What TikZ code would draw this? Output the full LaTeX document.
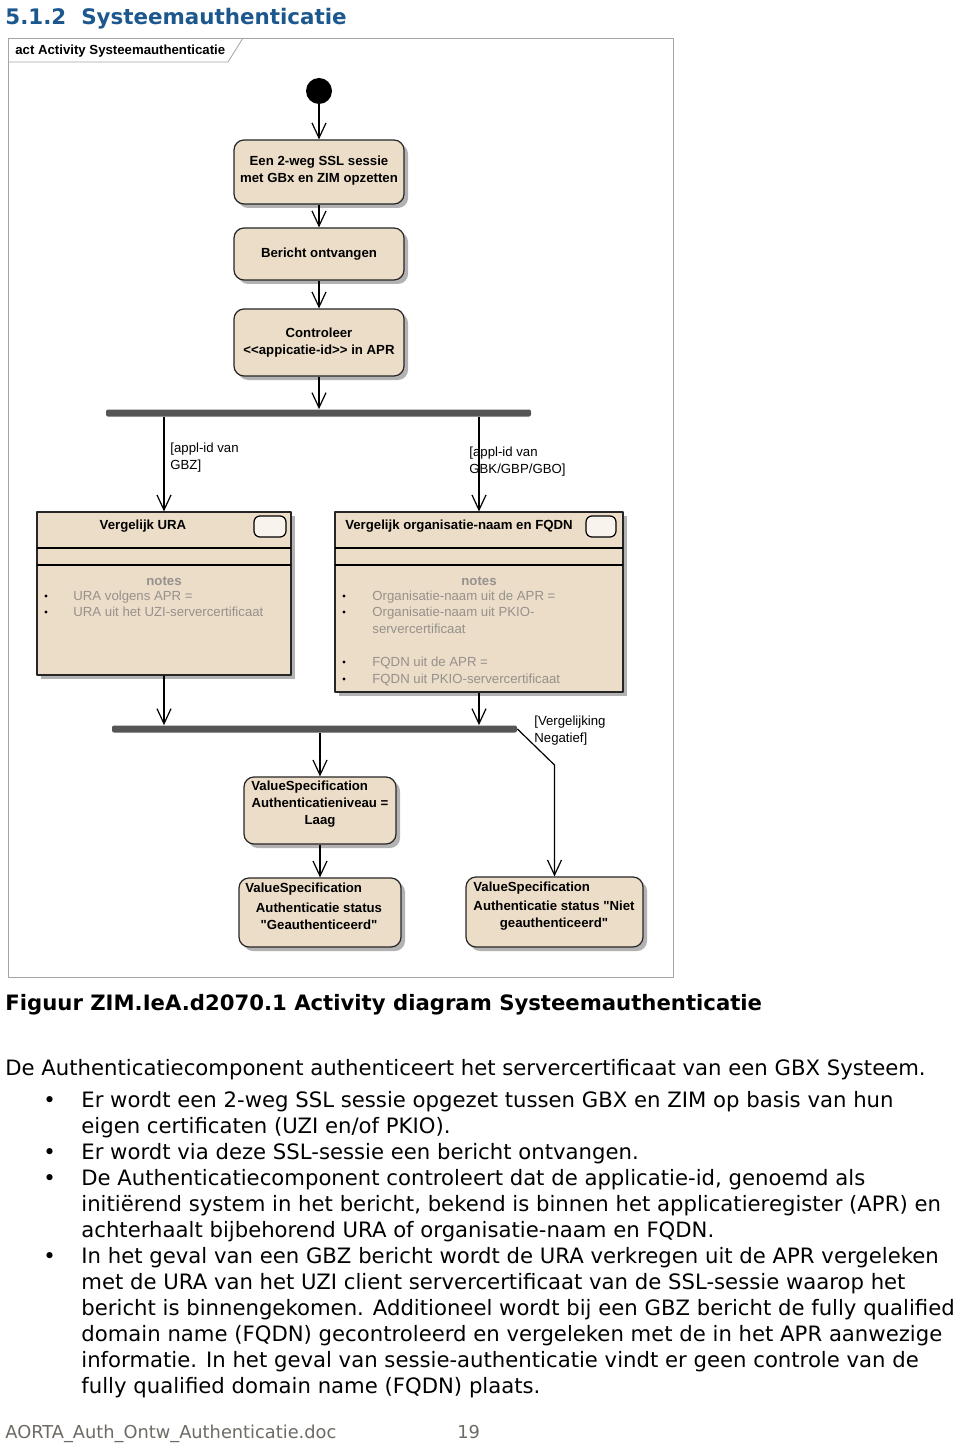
\documentclass[tikz,border=0pt]{standalone}
\usepackage{fontspec}
\setmainfont[Ligatures=TeXOff]{Liberation Sans}
\newfontfamily\bodyfont{DejaVu Sans}
\usetikzlibrary{arrows.meta,shadows,positioning}
\definecolor{kop}{RGB}{28,88,142}
\definecolor{actie}{RGB}{236,221,200}
\definecolor{balk}{RGB}{85,85,85}
\definecolor{notitie}{RGB}{150,145,140}
\definecolor{kader}{RGB}{165,165,165}
\definecolor{voet}{RGB}{110,106,100}

\begin{document}
\begin{tikzpicture}[x=0.5pt, y=-0.5pt, line join=round, >={Straight Barb[length=7.5pt,width=7pt]}]
			\tikzset{
				schaduw/.style={drop shadow={shadow xshift=2pt, shadow yshift=-2pt, fill=black!30, opacity=1}},
				actie/.style={draw=black!85, fill=actie, rounded corners=5pt, line width=0.6pt, schaduw, align=center, inner sep=0pt, font=\fontsize{6.6}{8.5}\selectfont\bfseries},
				blok/.style={draw=black!85, fill=actie, line width=0.6pt, schaduw, inner sep=0pt},
				balk/.style={fill=balk, rounded corners=1pt, minimum height=3.5pt, inner sep=0pt},
				pijl/.style={->, line width=0.6pt},
				wacht/.style={font=\fontsize{6.6}{8.5}\selectfont, align=left, anchor=north west, inner sep=0pt},
				notitie/.style={text=notitie, font=\fontsize{6.6}{8.3}\selectfont, anchor=base west, inner sep=0pt},
				vet/.style={font=\fontsize{6.6}{8.5}\selectfont\bfseries, inner sep=0pt},
				tekst/.style={font=\bodyfont\fontsize{10.6}{13}\selectfont, anchor=base west, inner sep=0pt}
			}
			\useasboundingbox[fill=white] (0,0) rectangle (960,1444);
			% kop
			\node[anchor=base west, text=kop, font=\bodyfont\bfseries\fontsize{10.7}{13}\selectfont, inner sep=0pt] (titel) at (5,25) {5.1.2\hspace{0.7em}Systeemauthenticatie};
			% kader
			\draw[kader] (8,38) rectangle (673,977);
			\draw[kader] (8,62) -- (228,62) -- (243,38);
			\node[vet, anchor=west] (act) at (15,51) {act Activity Systeemauthenticatie};
			% acties
			\node[circle, fill=black, minimum size=13pt, inner sep=0pt] (start) at (319,91) {};
			\node[actie, minimum width=85pt, minimum height=32pt] (ssl) at (319,172) {Een 2-weg SSL sessie\\met GBx en ZIM opzetten\rule[-3pt]{0pt}{3pt}};
			\node[actie, minimum width=85pt, minimum height=26pt] (ontv) at (319,254) {Bericht ontvangen};
			\node[actie, minimum width=85pt, minimum height=33.5pt] (contr) at (319,342.5) {Controleer\\<{}<appicatie-id>{}> in APR};
			\node[balk, minimum width=212.5pt] (fork) at (318.5,413) {};
			\node[blok, minimum width=127pt, minimum height=81.5pt] (ura) at (164,593.5) {};
			\node[blok, minimum width=144pt, minimum height=90pt] (org) at (479,602) {};
			\node[balk, minimum width=202.5pt] (join) at (314.5,729) {};
			\node[actie, minimum width=76pt, minimum height=33.5pt] (niveau) at (320,810.5) {};
			\node[actie, minimum width=81pt, minimum height=34.5pt] (geauth) at (320,912.5) {};
			\node[actie, minimum width=88.5pt, minimum height=35pt] (niet) at (554.5,912) {};
			% vakken van de vergelijkingen
			\draw[line width=0.6pt] (37,548) -- (291,548) (37,565) -- (291,565);
			\draw[line width=0.6pt] (335,548) -- (623,548) (335,565) -- (623,565);
			\draw[line width=0.6pt, fill=actie!35, rounded corners=3pt] (254,516) rectangle (286,537);
			\draw[line width=0.6pt, fill=actie!35, rounded corners=3pt] (586,516) rectangle (616,537);
			\node[vet] (uratitel) at (143,526) {Vergelijk URA};
			\node[vet] (orgtitel) at (459,526) {Vergelijk organisatie-naam en FQDN};
			\node[vet, text=notitie] (uranotes) at (164,581) {notes};
			\node[vet, text=notitie] (orgnotes) at (479,581) {notes};
			\foreach \y in {596,612} \fill[notitie] (46,\y) circle (1.7);
			\foreach \y in {596,612,662,679} \fill[notitie] (344,\y) circle (1.7);
			\node[notitie] (ura1) at (73,600) {URA volgens APR =};
			\node[notitie] (ura2) at (73,616.5) {URA uit het UZI-servercertificaat};
			\node[notitie] (org1) at (372,600) {Organisatie-naam uit de APR =};
			\node[notitie] (org2) at (372,616.5) {Organisatie-naam uit PKIO-};
			\node[notitie] (org3) at (372,633) {servercertificaat};
			\node[notitie] (org4) at (372,666.5) {FQDN uit de APR =};
			\node[notitie] (org5) at (372,683) {FQDN uit PKIO-servercertificaat};
			% waardes
			\node[vet, anchor=west] (vs1) at (251,787) {ValueSpecification};
			\node[vet, align=center] (vs1b) at (320,813) {Authenticatieniveau =\\Laag};
			\node[vet, anchor=west] (vs2) at (245,889) {ValueSpecification};
			\node[vet, align=center] (vs2b) at (319,916.5) {Authenticatie status\\"Geauthenticeerd"};
			\node[vet, anchor=west] (vs3) at (473,888) {ValueSpecification};
			\node[vet, align=center] (vs3b) at (554,915.5) {Authenticatie status "Niet\\geauthenticeerd"};
			% stroom
			\draw[pijl] (start) -- (ssl);
			\draw[pijl] (ssl) -- (ontv);
			\draw[pijl] (ontv) -- (contr);
			\draw[pijl] (contr) -- (contr |- fork.north);
			\draw[pijl] (ura.north |- fork.south) -- (ura.north);
			\draw[pijl] (org.north |- fork.south) -- (org.north);
			\node[wacht] (gbz) at (170,443) {[appl-id van\\GBZ]};
			\node[wacht] (gbk) at (469,447) {[appl-id van\\GBK/GBP/GBO]};
			\draw[pijl] (ura.south) -- (ura.south |- join.north);
			\draw[pijl] (org.south) -- (org.south |- join.north);
			\draw[pijl] (niveau.north |- join.south) -- (niveau);
			\draw[pijl] (niveau) -- (geauth);
			\coordinate (knik) at (554.5,765);
			\draw[pijl] (join.east) -- (knik) -- (niet);
			\node[wacht] (negatief) at (534,716) {[Vergelijking\\Negatief]};
			% tekst
			\node[tekst, font=\bodyfont\bfseries\fontsize{10.6}{13}\selectfont] (figuur) at (5,1010) {Figuur ZIM.IeA.d2070.1 Activity diagram Systeemauthenticatie};
			\node[tekst] (intro) at (5,1075) {De Authenticatiecomponent authenticeert het servercertificaat van een GBX Systeem.};
			\foreach \y in {1107,1159,1185,1263} \node[tekst] at (43,\y) {•};
			\node[tekst] (r1) at (81,1107) {Er wordt een 2-weg SSL sessie opgezet tussen GBX en ZIM op basis van hun};
			\node[tekst] (r2) at (81,1133) {eigen certificaten (UZI en/of PKIO).};
			\node[tekst] (r3) at (81,1159) {Er wordt via deze SSL-sessie een bericht ontvangen.};
			\node[tekst] (r4) at (81,1185) {De Authenticatiecomponent controleert dat de applicatie-id, genoemd als};
			\node[tekst] (r5) at (81,1211) {initiërend system in het bericht, bekend is binnen het applicatieregister (APR) en};
			\node[tekst] (r6) at (81,1237) {achterhaalt bijbehorend URA of organisatie-naam en FQDN.};
			\node[tekst] (r7) at (81,1263) {In het geval van een GBZ bericht wordt de URA verkregen uit de APR vergeleken};
			\node[tekst] (r8) at (81,1289) {met de URA van het UZI client servercertificaat van de SSL-sessie waarop het};
			\node[tekst] (r9) at (81,1315) {bericht is binnengekomen. Additioneel wordt bij een GBZ bericht de fully qualified};
			\node[tekst] (r10) at (81,1341) {domain name (FQDN) gecontroleerd en vergeleken met de in het APR aanwezige};
			\node[tekst] (r11) at (81,1367) {informatie. In het geval van sessie-authenticatie vindt er geen controle van de};
			\node[tekst] (r12) at (81,1393) {fully qualified domain name (FQDN) plaats.};
			% voet
			\node[tekst, text=voet, font=\bodyfont\fontsize{8.9}{11}\selectfont] (doc) at (5,1438) {AORTA\_Auth\_Ontw\_Authenticatie.doc};
			\node[tekst, text=voet, font=\bodyfont\fontsize{8.9}{11}\selectfont] (blad) at (457,1438) {19};
		\end{tikzpicture}
\end{document}
